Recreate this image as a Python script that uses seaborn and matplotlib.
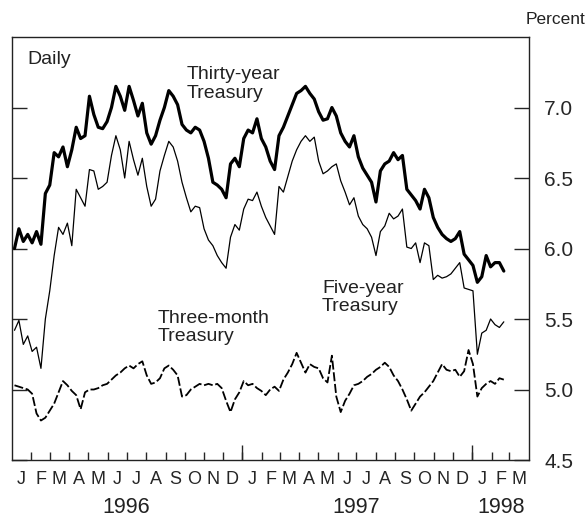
import numpy as np
import pandas as pd
import matplotlib
matplotlib.use("Agg")
import matplotlib.pyplot as plt
import matplotlib.dates as mdates
import seaborn as sns

# weekly readings (Fridays), percent
thirty_year = [
    6.00, 6.14, 6.05, 6.10, 6.04, 6.12, 6.03, 6.39, 6.45, 6.68,
    6.65, 6.72, 6.58, 6.70, 6.86, 6.78, 6.80, 7.08, 6.95, 6.86,
    6.85, 6.90, 7.00, 7.15, 7.08, 6.98, 7.15, 7.05, 6.94, 7.03,
    6.82, 6.74, 6.80, 6.91, 7.00, 7.12, 7.08, 7.02, 6.88, 6.84,
    6.82, 6.86, 6.84, 6.76, 6.64, 6.47, 6.45, 6.42, 6.36, 6.60,
    6.64, 6.58, 6.78, 6.84, 6.82, 6.92, 6.78, 6.72, 6.62, 6.56,
    6.80, 6.86, 6.94, 7.02, 7.10, 7.12, 7.15, 7.10, 7.06, 6.97,
    6.91, 6.92, 7.00, 6.94, 6.82, 6.76, 6.72, 6.80, 6.65, 6.57,
    6.52, 6.47, 6.33, 6.55, 6.60, 6.62, 6.68, 6.63, 6.66, 6.42,
    6.38, 6.34, 6.28, 6.42, 6.36, 6.22, 6.15, 6.10, 6.07, 6.05,
    6.07, 6.12, 5.96, 5.92, 5.88, 5.76, 5.80, 5.95, 5.87, 5.90,
    5.90, 5.84]

five_year = [
    5.42, 5.49, 5.32, 5.38, 5.27, 5.30, 5.15, 5.50, 5.70, 5.95,
    6.15, 6.10, 6.18, 6.02, 6.42, 6.36, 6.30, 6.56, 6.55, 6.42,
    6.44, 6.47, 6.66, 6.80, 6.70, 6.50, 6.76, 6.63, 6.52, 6.64,
    6.44, 6.30, 6.35, 6.55, 6.66, 6.76, 6.72, 6.62, 6.47, 6.36,
    6.26, 6.30, 6.29, 6.14, 6.06, 6.02, 5.95, 5.90, 5.86, 6.08,
    6.17, 6.13, 6.28, 6.35, 6.34, 6.40, 6.30, 6.22, 6.16, 6.10,
    6.44, 6.40, 6.51, 6.62, 6.70, 6.76, 6.80, 6.76, 6.79, 6.62,
    6.53, 6.55, 6.58, 6.60, 6.48, 6.40, 6.31, 6.36, 6.23, 6.17,
    6.14, 6.08, 5.95, 6.12, 6.16, 6.25, 6.21, 6.23, 6.28, 6.01,
    6.00, 6.04, 5.90, 6.04, 6.02, 5.78, 5.81, 5.79, 5.80, 5.82,
    5.86, 5.90, 5.72, 5.71, 5.70, 5.25, 5.40, 5.42, 5.50, 5.46,
    5.44, 5.48]

three_month = [
    5.03, 5.02, 5.01, 5.00, 4.97, 4.83, 4.78, 4.80, 4.85, 4.90,
    4.98, 5.06, 5.03, 4.99, 4.96, 4.86, 4.98, 5.00, 5.00, 5.01,
    5.03, 5.04, 5.07, 5.10, 5.12, 5.15, 5.17, 5.15, 5.18, 5.20,
    5.10, 5.04, 5.05, 5.08, 5.15, 5.17, 5.14, 5.10, 4.95, 4.96,
    5.00, 5.02, 5.04, 5.03, 5.04, 5.03, 5.04, 5.01, 4.92, 4.84,
    4.93, 4.98, 5.06, 5.03, 5.04, 5.01, 4.99, 4.96, 5.00, 5.02,
    4.99, 5.07, 5.12, 5.18, 5.26, 5.19, 5.12, 5.18, 5.16, 5.15,
    5.08, 5.05, 5.24, 4.95, 4.84, 4.92, 4.97, 5.03, 5.04, 5.06,
    5.09, 5.11, 5.14, 5.16, 5.19, 5.16, 5.10, 5.06, 5.00, 4.93,
    4.85, 4.90, 4.95, 4.98, 5.02, 5.06, 5.12, 5.18, 5.14, 5.13,
    5.14, 5.09, 5.13, 5.28, 5.18, 4.95, 5.01, 5.04, 5.06, 5.04,
    5.08, 5.07]

y_ticks = [4.5, 5.0, 5.5, 6.0, 6.5, 7.0]
years = ["1996", "1997", "1998"]
year_pos = ["1996-07-01", "1997-07-01", "1998-02-15"]
year_starts = ["1997-01-01", "1998-01-01"]

dates = pd.date_range("1996-01-05", periods=len(thirty_year), freq="7D")
df = pd.DataFrame({"date": dates, "thirty": thirty_year,
                   "five": five_year, "three": three_month})

sns.set_style("ticks")
plt.rcParams["font.family"] = ["Liberation Sans", "DejaVu Sans"]

fig = plt.figure(figsize=(5.87, 5.25), dpi=100)
ax = fig.add_axes([0.0204, 0.1238, 0.8808, 0.8057])

sns.lineplot(data=df, x="date", y="thirty", ax=ax, color="black", linewidth=2.3)
sns.lineplot(data=df, x="date", y="five", ax=ax, color="black", linewidth=0.9)
sns.lineplot(data=df, x="date", y="three", ax=ax, color="black", linewidth=1.3,
             linestyle=(0, (5, 1.5)))

ax.set_xlim(pd.Timestamp("1996-01-01"), pd.Timestamp("1998-04-01"))
ax.set_ylim(4.5, 7.5)
ax.set_xlabel("")
ax.set_ylabel("")

# y axis: ticks both sides, labels right
ax.set_yticks(y_ticks)
ax.set_yticklabels([f"{v:.1f}" for v in y_ticks])
ax.tick_params(axis="y", left=True, right=True, labelleft=False, labelright=True,
               direction="in", length=11, width=1, labelsize=15, pad=11)

# x axis: long ticks at year starts, short ticks at month starts
month_starts = pd.date_range("1996-02-01", "1998-03-01", freq="MS")
ax.xaxis.remove_overlapping_locs = False
ax.set_xticks([mdates.date2num(pd.Timestamp(d)) for d in year_starts])
ax.set_xticklabels(["", ""])
ax.set_xticks(mdates.date2num(month_starts), minor=True)
ax.tick_params(axis="x", which="major", direction="in", length=11, width=1)
ax.tick_params(axis="x", which="minor", direction="in", length=6, width=1,
               labelbottom=False)

# month initials centred between the ticks
mid_months = pd.date_range("1996-01-01", "1998-03-01", freq="MS") + pd.Timedelta(days=15)
sec = ax.secondary_xaxis("bottom")
sec.set_xticks(mdates.date2num(mid_months))
sec.set_xticklabels([d.strftime("%b")[0] for d in mid_months])
sec.tick_params(length=0, labelsize=13, pad=8)
sec.spines["bottom"].set_visible(False)

for s in ax.spines.values():
    s.set_visible(True)
    s.set_linewidth(1.0)
    s.set_color("#222222")

for yr, pos in zip(years, year_pos):
    ax.text(mdates.date2num(pd.Timestamp(pos)), -0.113, yr,
            transform=ax.get_xaxis_transform(), ha="center", va="center",
            fontsize=15.5, color="#222222")

ax.text(0.029, 0.946, "Daily", transform=ax.transAxes, fontsize=14,
        va="center", ha="left", color="#222222")
ax.text(0.3385, 0.889, "Thirty-year\nTreasury", transform=ax.transAxes,
        fontsize=14, va="center", ha="left", color="#222222", linespacing=1.1)
ax.text(0.5996, 0.385, "Five-year\nTreasury", transform=ax.transAxes,
        fontsize=14, va="center", ha="left", color="#222222", linespacing=1.1)
ax.text(0.2824, 0.314, "Three-month\nTreasury", transform=ax.transAxes,
        fontsize=14, va="center", ha="left", color="#222222", linespacing=1.1)
fig.text(0.997, 0.962, "Percent", ha="right", va="center", fontsize=12.5,
         color="#222222")

fig.savefig("out.png", dpi=100, facecolor="white")
